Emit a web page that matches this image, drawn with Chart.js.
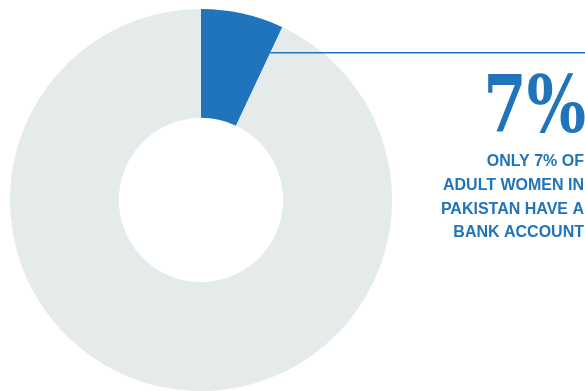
<!DOCTYPE html>
<html>
<head>
<meta charset="utf-8">
<script src="https://cdn.jsdelivr.net/npm/chart.js@4"></script>
<style>
  html, body { margin: 0; padding: 0; background: #fff; }
  #wrap { position: relative; width: 585px; height: 391px; }
</style>
</head>
<body>
<div id="wrap"><canvas id="chart" width="585" height="391"></canvas></div>
<script>
// data
const labels = ['With bank account', 'Without bank account'];
const shares = [7, 93];
const colors = ['#1f74bb', '#e5eaea'];
const bigLabel = '7%';
const noteLines = ['ONLY 7% OF', 'ADULT WOMEN IN', 'PAKISTAN HAVE A', 'BANK ACCOUNT'];

const BLUE = '#1f74bb';

// leader line from the edge of the blue slice + the callout text
const callout = {
  id: 'callout',
  afterDraw(chart) {
    const ctx = chart.ctx;
    const arc = chart.getDatasetMeta(0).data[0];
    const r = arc.innerRadius + (arc.outerRadius - arc.innerRadius) * 0.74;
    const x0 = arc.x + Math.cos(arc.endAngle) * r;
    const y0 = arc.y + Math.sin(arc.endAngle) * r;
    ctx.save();
    ctx.strokeStyle = BLUE;
    ctx.lineWidth = 1.5;
    ctx.beginPath();
    ctx.moveTo(x0, y0);
    ctx.lineTo(chart.width, y0);
    ctx.stroke();

    // big number, narrow bold serif
    ctx.fillStyle = BLUE;
    ctx.textAlign = 'right';
    ctx.textBaseline = 'alphabetic';
    ctx.save();
    ctx.translate(586, 131.5);
    ctx.scale(0.8, 1);
    ctx.font = 'bold 78px "DejaVu Serif", "Liberation Serif", serif';
    ctx.fillText(bigLabel, 0, 0);
    ctx.restore();

    ctx.font = 'bold 16px "Liberation Sans", Arial, sans-serif';
    noteLines.forEach((t, i) => {
      ctx.fillText(t, 584, 166 + i * 23.8);
    });
    ctx.restore();
  }
};

new Chart(document.getElementById('chart'), {
  type: 'doughnut',
  data: {
    labels: labels,
    datasets: [{
      data: shares,
      backgroundColor: colors,
      borderWidth: 0
    }]
  },
  options: {
    responsive: false,
    animation: false,
    cutout: '43%',
    layout: { padding: { left: 10, top: 9, right: 193, bottom: 0 } },
    plugins: { legend: { display: false }, tooltip: { enabled: false } }
  },
  plugins: [callout]
});
</script>
</body>
</html>
